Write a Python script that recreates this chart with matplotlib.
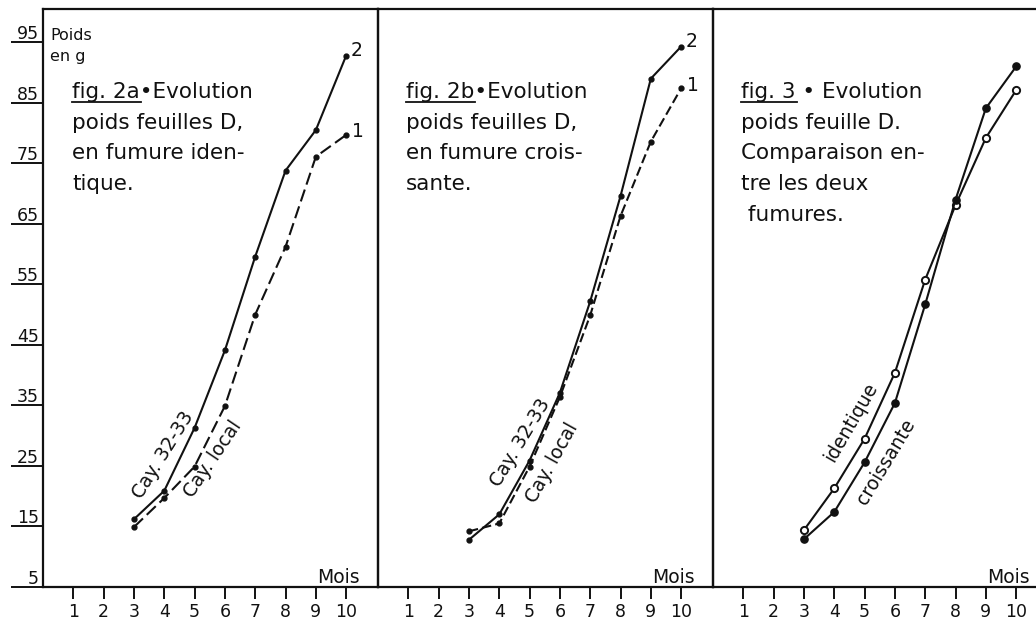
#!/usr/bin/env python3
"""
Leaf D weight over the months: fig. 2a, fig. 2b and fig. 3 side by side,
drawn like the old printed figure (black ink, boxed panels, underlined ticks).
"""

import matplotlib
matplotlib.use("Agg")
import matplotlib.pyplot as plt
import matplotlib.transforms as mtransforms
from matplotlib.lines import Line2D

# =============================================================================
# DATA
# =============================================================================
MONTHS = [3, 4, 5, 6, 7, 8, 9, 10]

FIG2A_CAY_3233 = [16.2, 20.9, 31.3, 44.1, 59.6, 73.8, 80.5, 92.8]
FIG2A_CAY_LOCAL = [14.9, 19.7, 24.9, 34.9, 50.0, 61.2, 76.1, 79.7]

FIG2B_CAY_3233 = [12.8, 17.0, 25.9, 37.1, 52.2, 69.6, 89.0, 94.3]
FIG2B_CAY_LOCAL = [14.2, 15.5, 24.9, 36.4, 49.9, 66.3, 78.6, 87.4]

FIG3_IDENTIQUE = [14.4, 21.3, 29.5, 40.4, 55.8, 68.1, 79.2, 87.1]
FIG3_CROISSANTE = [12.9, 17.4, 25.6, 35.4, 51.7, 69.0, 84.1, 91.0]

X_TICKS = [1, 2, 3, 4, 5, 6, 7, 8, 9, 10]
Y_TICKS = [5, 15, 25, 35, 45, 55, 65, 75, 85, 95]

CAPTIONS = [
    ("fig. 2a", "\u2022Evolution", ["poids feuilles D,", "en fumure iden-", "tique."]),
    ("fig. 2b", "\u2022Evolution", ["poids feuilles D,", "en fumure crois-", "sante."]),
    ("fig. 3", " \u2022 Evolution", ["poids feuille D.", "Comparaison en-", "tre les deux", " fumures."]),
]

# =============================================================================
# STYLE
# =============================================================================
W_PX, H_PX, DPI = 1036, 622, 100
PT = 72.0 / DPI           # points per pixel
INK = "#111111"
FONT = "DejaVu Sans"

PANEL_LEFT_PX = [43, 378, 713]
PANEL_W_PX = 335
PANEL_BOTTOM_PX = 35
PANEL_H_PX = 578

XLIM = (0, 11.05)
YLIM = (5, 100.5)

LW = 1.5
SPINE_LW = 1.6
CAPTION_FS = 15.5
CAPTION_LS = 1.67
TICK_FS = 12.5
LABEL_FS = 13.5


def px(v):
    return v * PT


def make_axes(fig, left_px):
    ax = fig.add_axes([left_px / W_PX, PANEL_BOTTOM_PX / H_PX,
                       PANEL_W_PX / W_PX, PANEL_H_PX / H_PX])
    ax.set_xlim(*XLIM)
    ax.set_ylim(*YLIM)
    for sp in ax.spines.values():
        sp.set_linewidth(SPINE_LW)
        sp.set_color(INK)
    ax.set_xticks(X_TICKS)
    ax.set_xticklabels([str(m) for m in X_TICKS], fontsize=TICK_FS, family=FONT, color=INK)
    ax.tick_params(axis="x", direction="out", length=px(12), width=1.4,
                   pad=px(4), color=INK)
    ax.set_yticks([])
    ax.patch.set_alpha(0)
    ax.annotate("Mois", xy=(10.45, 0), xycoords=("data", "axes fraction"),
                xytext=(0, px(4)), textcoords="offset points",
                ha="right", va="baseline", fontsize=LABEL_FS, family=FONT, color=INK)
    return ax


def add_caption(fig, ax, head, tail, body, dx_px):
    renderer = fig.canvas.get_renderer()
    top_off = (0, 1)
    kw = dict(xycoords="axes fraction", textcoords="offset points",
              ha="left", va="top", fontsize=CAPTION_FS, family=FONT, color=INK)
    text = "\n".join([head + tail] + body)
    ax.annotate(text, xy=top_off, xytext=(px(dx_px), -px(73)),
                linespacing=CAPTION_LS, **kw)

    # underline only the "fig. xx" part
    probe = ax.annotate(head, xy=top_off, xytext=(px(dx_px), -px(73)), **kw)
    bb = probe.get_window_extent(renderer)
    probe.remove()
    y = bb.y0 + 0.5
    fig.add_artist(Line2D([bb.x0, bb.x1 + 1], [y, y], lw=1.3, color=INK,
                          transform=mtransforms.IdentityTransform()))


def end_label(ax, x, y, s, dx_px, dy_px):
    ax.annotate(s, xy=(x, y), xytext=(px(dx_px), px(dy_px)), textcoords="offset points",
                ha="left", va="center", fontsize=LABEL_FS, family=FONT, color=INK)


def curve_label(ax, x, y, s, angle):
    ax.text(x, y, s, rotation=angle, rotation_mode="anchor", ha="center", va="center",
            fontsize=LABEL_FS, family=FONT, color=INK)


def main():
    fig = plt.figure(figsize=(W_PX / DPI, H_PX / DPI), dpi=DPI)
    fig.patch.set_facecolor("white")

    ax1 = make_axes(fig, PANEL_LEFT_PX[0])
    ax2 = make_axes(fig, PANEL_LEFT_PX[1])
    ax3 = make_axes(fig, PANEL_LEFT_PX[2])

    # y axis: long underline ticks with the numbers sitting on top of them
    ax1.set_yticks(Y_TICKS)
    ax1.set_yticklabels([])
    ax1.tick_params(axis="y", direction="out", length=px(32), width=1.4, color=INK)
    for v in Y_TICKS:
        ax1.annotate(str(v), xy=(0, v), xycoords=ax1.get_yaxis_transform(),
                     xytext=(-px(4), px(3)), textcoords="offset points",
                     ha="right", va="baseline", fontsize=TICK_FS, family=FONT, color=INK)
    ax1.annotate("Poids\nen g", xy=(0, 1), xycoords="axes fraction",
                 xytext=(px(7), -px(19)), textcoords="offset points",
                 ha="left", va="top", fontsize=11.5, family=FONT, color=INK, linespacing=1.5)

    # fig. 2a
    ax1.plot(MONTHS, FIG2A_CAY_3233, color=INK, lw=LW, marker="o", ms=3.5)
    ax1.plot(MONTHS, FIG2A_CAY_LOCAL, color=INK, lw=LW, marker="o", ms=3.5, dashes=(6, 2.5))
    curve_label(ax1, 3.95, 26.8, "Cay. 32-33", 58)
    curve_label(ax1, 5.6, 26.2, "Cay. local", 56)
    end_label(ax1, MONTHS[-1], FIG2A_CAY_3233[-1], "2", 4, 5)
    end_label(ax1, MONTHS[-1], FIG2A_CAY_LOCAL[-1], "1", 6, 3)

    # fig. 2b
    ax2.plot(MONTHS, FIG2B_CAY_3233, color=INK, lw=LW, marker="o", ms=3.5)
    ax2.plot(MONTHS, FIG2B_CAY_LOCAL, color=INK, lw=LW, marker="o", ms=3.5, dashes=(4.5, 2))
    curve_label(ax2, 4.7, 28.8, "Cay. 32-33", 59)
    curve_label(ax2, 5.75, 25.5, "Cay. local", 61)
    end_label(ax2, MONTHS[-1], FIG2B_CAY_3233[-1], "2", 4, 5)
    end_label(ax2, MONTHS[-1], FIG2B_CAY_LOCAL[-1], "1", 6, 3)

    # fig. 3
    ax3.plot(MONTHS, FIG3_IDENTIQUE, color=INK, lw=LW, marker="o", ms=5.2,
             mfc="white", mec=INK, mew=1.4)
    ax3.plot(MONTHS, FIG3_CROISSANTE, color=INK, lw=LW, marker="o", ms=5.2,
             mfc=INK, mec=INK)
    curve_label(ax3, 4.55, 32.2, "identique", 60)
    curve_label(ax3, 5.7, 25.6, "croissante", 59)

    for ax, (head, tail, body), dx in zip([ax1, ax2, ax3], CAPTIONS, [29, 28, 28]):
        add_caption(fig, ax, head, tail, body, dx)

    fig.savefig("out.png", dpi=DPI, facecolor="white")
    plt.close(fig)


if __name__ == "__main__":
    main()
